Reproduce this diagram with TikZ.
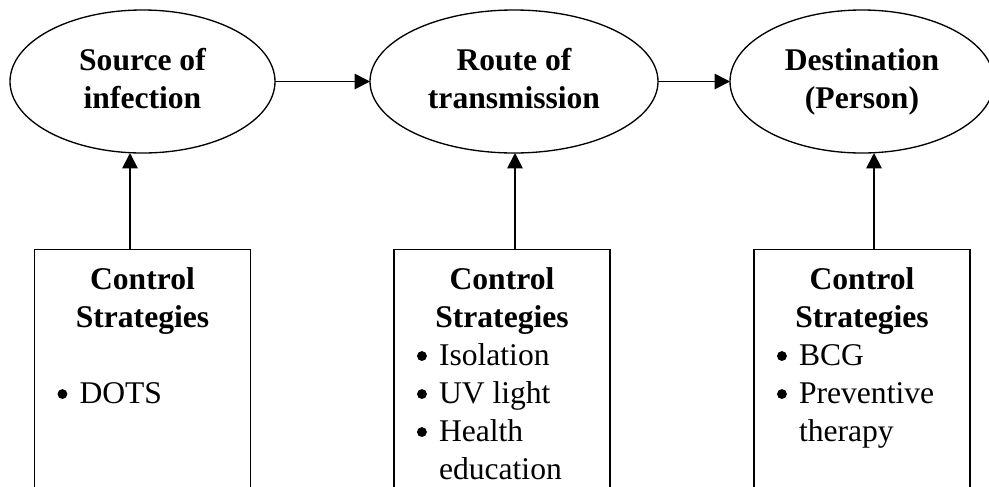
\documentclass[tikz,border=0pt]{standalone}
\usepackage{fontspec}
\setmainfont{Liberation Serif}
\usetikzlibrary{shapes.geometric,arrows.meta}
\newlength\pxu \setlength\pxu{0.75pt}
\newcommand\bul{\hspace*{23\pxu}\makebox[22\pxu][l]{\tikz[baseline=0pt]\fill (0pt,6.8pt) circle[radius=3.7pt];}}
\newcommand\ind{\hspace*{45\pxu}}
\begin{document}
\begin{tikzpicture}[x=0.75pt,y=-0.75pt,
  every node/.style={font=\fontsize{23.7}{28.5}\selectfont, inner sep=0pt, outer sep=0pt},
  oval/.style={ellipse, draw, line width=1pt, minimum width=#1, minimum height=107.25pt,
    font=\fontsize{23.7}{28.5}\selectfont\bfseries},
  stratbox/.style={draw, line width=1.4pt, minimum width=216\pxu, minimum height=260\pxu, anchor=north},
  stext/.style={anchor=north, align=left},
  arr/.style={line width=1.3pt, -{Triangle[length=11.5pt,width=11.5pt]}}
]
\useasboundingbox (0,0) rectangle (989,486);
\clip (0,0) rectangle (989,486);
\node[oval=198.75pt] (e1) at (142.5,81.5) {\begin{tabular}{c}Source of\\infection\end{tabular}};
\node[oval=216pt] (e2) at (514,81.5) {\begin{tabular}{c}Route of\\transmission\end{tabular}};
\node[oval=198pt] (e3) at (862,81.5) {\begin{tabular}{c}Destination\\(Person)\end{tabular}};
\node[stratbox] (b1) at (142.5,249.5) {};
\node[stratbox] (b2) at (502,249.5) {};
\node[stratbox] (b3) at (862,249.5) {};
\node[stext] (t1) at ([yshift=-13\pxu]b1.north) {\begin{tabular}{@{}l@{}}
\makebox[216\pxu]{\bfseries Control}\\
\makebox[216\pxu]{\bfseries Strategies}\\
\\
\makebox[216\pxu][l]{\bul DOTS}
\end{tabular}};
\node[stext] (t2) at ([yshift=-13\pxu]b2.north) {\begin{tabular}{@{}l@{}}
\makebox[216\pxu]{\bfseries Control}\\
\makebox[216\pxu]{\bfseries Strategies}\\
\makebox[216\pxu][l]{\bul Isolation}\\
\makebox[216\pxu][l]{\bul UV light}\\
\makebox[216\pxu][l]{\bul Health}\\
\makebox[216\pxu][l]{\ind education}
\end{tabular}};
\node[stext] (t3) at ([yshift=-13\pxu]b3.north) {\begin{tabular}{@{}l@{}}
\makebox[216\pxu]{\bfseries Control}\\
\makebox[216\pxu]{\bfseries Strategies}\\
\makebox[216\pxu][l]{\bul BCG}\\
\makebox[216\pxu][l]{\bul Preventive}\\
\makebox[216\pxu][l]{\ind therapy}
\end{tabular}};
\draw[arr] (e1.east) -- (e2.west);
\draw[arr] (e2.east) -- (e3.west);
\draw[arr] ([xshift=-12.5\pxu]b1.north) -- ([xshift=-12.5\pxu]b1.north |- e1.south);
\draw[arr] ([xshift=13\pxu]b2.north) -- ([xshift=13\pxu]b2.north |- e2.south);
\draw[arr] ([xshift=12\pxu]b3.north) -- ([xshift=12\pxu]b3.north |- e3.south);
\end{tikzpicture}
\end{document}
